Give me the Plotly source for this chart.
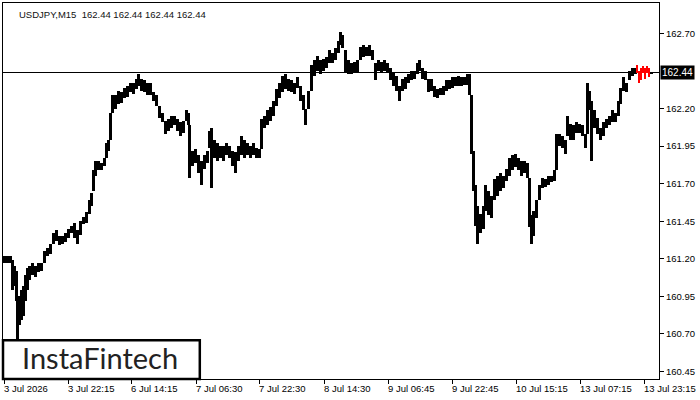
import plotly.graph_objects as go

# bar number (M15 bars from the first bar on screen), high and low prices
bar_no = [0,3,6,8,10,12,13,15,17,19,21,23,25,28,31,34,37,40,43,46,49,52,55,58,61,64,67,70,73,76,79,82,85,87,89,91,94,97,100,102,104,106,108,111,114,117,120,123,126,129,132,134,137,140,143,146,149,152,155,158,161,164,167,170,173,176,179,182,184,185,188,191,194,197,200,203,205,207,210,213,216,219,222,225,228,231,234,237,240,243,246,249,252,255,257,260,263,266,269,272,275,278,281,284,287,290,293,296,299,301,304,307,310,313,316,319,322,325,328,331,334,336,338,341,344,347,350,353,356,359,362,365,368,371,374,377,380,383,386,389,392,395,398,401,404,407,410,413,415,418,421,424,427,430,433,436,439,442,445,448,451,454,457,460,463,465,467,469,471,473,476,479,481,484,487,490,493,496,499,502,505,508,511,514,517,520,523,525,527,529,532,535,538,541,544,547,550,552,555,558,561,563,566,569,572,575,578,581,583,585,587,590,593,596,599,602,605,608,611,614,616,619,622,625,628,631,647]

high = [161.22,161.22,161.22,161.19,161.15,161.12,160.92,160.95,160.99,161.02,161.09,161.14,161.15,161.17,161.15,161.17,161.17,161.25,161.27,161.30,161.37,161.39,161.35,161.35,161.37,161.40,161.42,161.44,161.39,161.45,161.48,161.51,161.59,161.64,161.79,161.85,161.85,161.84,161.87,161.97,161.99,162.17,162.29,162.29,162.32,162.31,162.34,162.35,162.37,162.37,162.40,162.43,162.40,162.39,162.37,162.37,162.31,162.29,162.22,162.17,162.12,162.13,162.15,162.15,162.13,162.11,162.12,162.19,162.17,162.09,161.92,161.93,161.89,161.85,161.89,161.92,162.05,162.07,161.99,161.97,161.95,161.95,161.97,161.95,161.92,161.91,161.95,162.02,161.99,161.97,161.95,161.97,161.94,161.93,162.13,162.15,162.19,162.21,162.25,162.33,162.37,162.42,162.43,162.40,162.39,162.37,162.41,162.35,162.29,162.20,162.32,162.49,162.52,162.55,162.52,162.53,162.54,162.59,162.57,162.60,162.65,162.71,162.69,162.59,162.52,162.50,162.51,162.52,162.61,162.62,162.61,162.62,162.59,162.50,162.52,162.51,162.52,162.50,162.47,162.44,162.42,162.35,162.40,162.41,162.43,162.45,162.45,162.50,162.52,162.47,162.45,162.40,162.40,162.35,162.33,162.34,162.35,162.39,162.39,162.41,162.41,162.42,162.41,162.41,162.43,162.43,162.29,161.92,161.69,161.55,161.50,161.55,161.69,161.65,161.62,161.73,161.75,161.77,161.75,161.80,161.87,161.89,161.90,161.87,161.85,161.85,161.84,161.74,161.49,161.52,161.59,161.69,161.74,161.73,161.75,161.75,161.79,162.03,162.03,162.02,161.99,162.15,162.10,162.09,162.11,162.10,162.09,162.03,162.37,162.32,162.25,162.19,162.14,162.07,162.11,162.13,162.15,162.19,162.17,162.25,162.34,162.41,162.37,162.45,162.47,162.47,162.44]

low = [161.17,161.17,161.17,160.99,161.02,160.92,160.66,160.76,160.79,160.82,160.92,160.99,161.06,161.09,161.08,161.11,161.12,161.17,161.22,161.23,161.30,161.32,161.29,161.30,161.31,161.34,161.37,161.34,161.30,161.36,161.43,161.44,161.50,161.55,161.65,161.75,161.79,161.79,161.82,161.87,161.92,161.99,162.17,162.20,162.23,162.24,162.27,162.28,162.31,162.30,162.33,162.35,162.32,162.31,162.29,162.29,162.25,162.22,162.14,162.11,162.03,162.05,162.07,162.09,162.05,162.02,162.04,162.12,162.09,161.74,161.82,161.84,161.77,161.69,161.80,161.84,161.94,161.67,161.87,161.85,161.87,161.85,161.89,161.87,161.82,161.77,161.85,161.89,161.87,161.89,161.87,161.89,161.87,161.87,161.93,162.07,162.09,162.12,162.15,162.22,162.27,162.31,162.33,162.32,162.31,162.30,162.34,162.25,162.19,162.09,162.20,162.32,162.42,162.45,162.43,162.45,162.47,162.50,162.50,162.52,162.57,162.62,162.60,162.44,162.43,162.43,162.44,162.44,162.52,162.54,162.55,162.55,162.52,162.39,162.45,162.44,162.45,162.44,162.39,162.35,162.32,162.25,162.32,162.33,162.37,162.39,162.40,162.43,162.45,162.40,162.39,162.31,162.32,162.28,162.27,162.29,162.29,162.32,162.33,162.34,162.35,162.35,162.35,162.36,162.36,162.29,161.90,161.65,161.42,161.30,161.37,161.40,161.52,161.49,161.47,161.59,161.62,161.65,161.67,161.72,161.75,161.79,161.81,161.79,161.75,161.77,161.74,161.41,161.30,161.35,161.47,161.59,161.67,161.68,161.69,161.71,161.72,161.79,161.95,161.94,161.90,162.02,161.99,161.99,162.04,162.04,162.02,161.94,162.03,162.19,161.85,162.07,162.03,161.99,162.02,162.07,162.09,162.11,162.11,162.15,162.23,162.32,162.31,162.39,162.42,162.43,162.43]

# pattern bars shown in red
pat_bar_no = [633,635,637,639,641,643,645]
pat_high = [162.49,162.45,162.47,162.48,162.47,162.48,162.47]
pat_low = [162.44,162.37,162.39,162.44,162.40,162.44,162.41]

tick_bars = [0,64,127,192,255,320,384,448,512,576,640]
tick_labels = ["3 Jul 2026","3 Jul 22:15","6 Jul 14:15","7 Jul 06:30","7 Jul 22:30",
               "8 Jul 14:30","9 Jul 06:45","9 Jul 22:45","10 Jul 15:15","13 Jul 07:15","13 Jul 23:15"]
price_ticks = [160.45,160.70,160.95,161.20,161.45,161.70,161.95,162.20,162.70]
last_price = 162.44
symbol = "USDJPY,M15"

FONT = "Liberation Sans"

fig = go.Figure()
fig.add_trace(go.Bar(x=bar_no, y=[h - l for h, l in zip(high, low)], base=low,
                     width=3.0, marker=dict(color="black", line=dict(width=0)),
                     hoverinfo="skip", showlegend=False))
fig.add_trace(go.Bar(x=pat_bar_no, y=[h - l for h, l in zip(pat_high, pat_low)], base=pat_low,
                     width=1.8, marker=dict(color="#ff0000", line=dict(width=0)),
                     hoverinfo="skip", showlegend=False))

fig.add_shape(type="line", xref="paper", x0=0, x1=1, yref="y", y0=last_price, y1=last_price,
              line=dict(color="black", width=1), layer="below")

annotations = []
for tb, tl in zip(tick_bars, tick_labels):
    annotations.append(dict(x=tb, xref="x", y=0, yref="paper", text=tl, showarrow=False,
                            xanchor="left", yanchor="top", yshift=-2, xshift=-2,
                            font=dict(family=FONT, size=9.5, color="black")))
annotations.append(dict(x=1, xref="paper", y=last_price, yref="y",
                        text=f"{last_price:.2f}", showarrow=False, xanchor="left",
                        yanchor="middle", xshift=1, bgcolor="black", borderpad=1,
                        font=dict(family=FONT, size=10, color="white")))
annotations.append(dict(x=0, xref="paper", y=1, yref="paper",
                        text=symbol + "\u00a0\u00a0" + " ".join([f"{last_price:.2f}"] * 4),
                        showarrow=False, xanchor="left", yanchor="top", xshift=14, yshift=-4,
                        font=dict(family=FONT, size=9.5, color="#111111")))
annotations.append(dict(x=0, xref="paper", y=0, yref="paper", text="InstaFintech",
                        showarrow=False, xanchor="left", yanchor="bottom",
                        xshift=17, yshift=2,
                        font=dict(family="Lato", size=29, color="#222222")))
fig.add_shape(type="rect", xref="paper", yref="paper", x0=0, x1=0.3, y0=0, y1=0.103,
              line=dict(color="black", width=2.5), fillcolor="white", layer="above")

fig.update_layout(
    width=700, height=400,
    margin=dict(l=3, r=41, t=3, b=21, autoexpand=False),
    paper_bgcolor="white", plot_bgcolor="white",
    bargap=0, barmode="overlay",
    annotations=annotations,
    xaxis=dict(range=[-1, 655], showgrid=False, zeroline=False,
               tickvals=tick_bars, ticktext=[""] * len(tick_bars),
               ticks="outside", ticklen=4, tickcolor="black",
               showline=True, mirror=True, linecolor="black", linewidth=1),
    yaxis=dict(range=[160.3994, 162.9027], side="right", showgrid=False, zeroline=False,
               tickvals=price_ticks, ticktext=[f"{v:.2f}" for v in price_ticks],
               ticks="outside", ticklen=4, tickcolor="black",
               tickfont=dict(family=FONT, size=9.5, color="black"),
               showline=True, mirror=True, linecolor="black", linewidth=1),
)

fig.write_html("out.html")
